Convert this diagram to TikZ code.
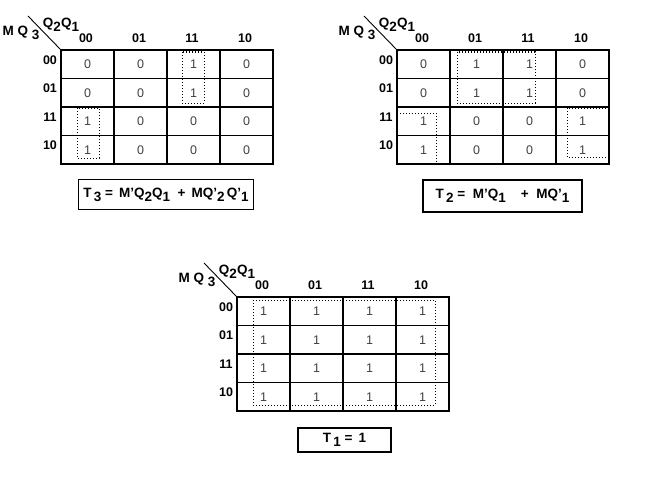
\documentclass[tikz,border=0pt]{standalone}
\usepackage{fontspec}
\setmainfont{Liberation Sans}
\newcommand\lo[1]{\raisebox{-0.55ex}{#1}}
\newcommand\kmap[2]{%
  \foreach \v [count=\i from 0] in {#2} {
    \pgfmathtruncatemacro\r{int(\i/4)}
    \pgfmathtruncatemacro\c{mod(\i,4)}
    \node[cell] (#1-\r-\c) at ({53*\c+26.5},{28.5*\r+14.25}) {\v};
  }
  \foreach \h [count=\k from 0] in {00,01,11,10} {
    \node[hdr] (#1-h\k) at ({53*\k+25},-12) {\h};
    \node[hdr] (#1-v\k) at (-11,{28.5*\k+10}) {\h};
  }
  \coordinate (#1-d) at (-33,-34);
  \draw[line width=0.9pt] (#1-d) -- (#1-0-0.north west);
  \node[lbl] (#1-q) at (0,-25) {Q\lo{2}Q\lo{1}};
  \node[lbl] (#1-m) at (-40,-17) {M Q \lo{3}};
}
\begin{document}
\begin{tikzpicture}[x=1pt,y=-1pt,
  cell/.style={draw, line width=1.6pt, minimum width=53pt, minimum height=28.5pt,
    inner sep=0pt, font=\fontsize{12.5}{12.5}\selectfont, text=black!75},
  hdr/.style={inner sep=0pt, font=\bfseries\fontsize{12.5}{12.5}\selectfont},
  lbl/.style={inner sep=0pt, font=\bfseries\fontsize{13.5}{13.5}\selectfont},
  grp/.style={dotted, line width=1pt},
  eqbox/.style={draw, line width=1.3pt, inner sep=0pt,
    font=\bfseries\fontsize{13.5}{13.5}\selectfont}]
\useasboundingbox (0,0) rectangle (660,495);
% Map T3
\begin{scope}[shift={(61,50)}]
  \kmap{a}{0,0,1,0, 0,0,1,0, 1,0,0,0, 1,0,0,0}
  \draw[grp] (121,2) rectangle (143,53);
  \draw[grp] (16,58) rectangle (38,108);
\end{scope}
\node[eqbox, minimum width=175pt, minimum height=30pt] (ea) at (166,194.5)
  {T\,\lo{3} = \,M'Q\lo{2}Q\lo{1} \ + \,MQ'\lo{2}\,Q'\lo{1}};
% Map T2
\begin{scope}[shift={(397,50)}]
  \kmap{b}{0,1,1,0, 0,1,1,0, 1,0,0,1, 1,0,0,1}
  \draw[grp] (60,2) rectangle (138,53);
  \draw[grp] (0,63) rectangle (39,113);
  \draw[grp] (170,58) rectangle (211,107);
\end{scope}
\node[eqbox, minimum width=159pt, minimum height=32pt] (eb) at (502.5,196)
  {T\,\lo{2} = \ M'Q\lo{1} \ \ \ + \ MQ'\lo{1}\hspace{14pt}};
% Map T1
\begin{scope}[shift={(237,297)}]
  \kmap{c}{1,1,1,1, 1,1,1,1, 1,1,1,1, 1,1,1,1}
  \draw[grp] (16,3) rectangle (198,108);
\end{scope}
\node[eqbox, minimum width=93pt, minimum height=24pt] (ec) at (344.5,440)
  {T\,\lo{1} = \,1};
\end{tikzpicture}
\end{document}
